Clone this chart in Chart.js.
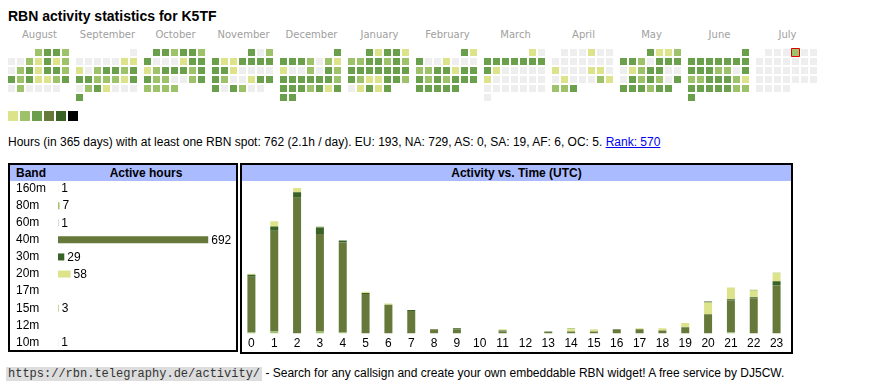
<!DOCTYPE html>
<html><head><meta charset="utf-8">
<script src="https://cdn.jsdelivr.net/npm/chart.js@4.4.1/dist/chart.umd.min.js"></script>
<style>
html,body{margin:0;padding:0;background:#fff;}
body{width:870px;height:390px;position:relative;overflow:hidden;font-family:"Liberation Sans",Arial,sans-serif;font-size:12px;color:#000;}
#title{position:absolute;left:8px;top:9px;font-size:14px;line-height:14px;font-weight:bold;white-space:nowrap;}
.mon{position:absolute;top:29px;width:63px;text-align:center;font-family:"DejaVu Sans",sans-serif;font-size:10px;line-height:12px;color:#a0a0a0;white-space:nowrap;}
.lg{position:absolute;top:111px;width:10px;height:10px;}
#info{position:absolute;left:8px;top:136px;line-height:12px;white-space:nowrap;}
#info a{color:#0000ee;text-decoration:underline;}
.box{position:absolute;box-sizing:border-box;border:2px solid #000;background:#fff;}
.hdr{position:absolute;left:0;right:0;top:0;height:16px;background:#aabbff;font-weight:bold;line-height:16px;}
#foot{position:absolute;left:6px;top:366px;line-height:14px;white-space:nowrap;}
#foot code{font-family:"Liberation Mono",monospace;font-size:12px;background:#dddddd;color:#333;padding:0 2px;}
canvas{position:absolute;}
</style></head>
<body>
<div id="title">RBN activity statistics for K5TF</div>
<div id="months"></div>
<div id="legendSq"></div>
<canvas id="cal" width="819" height="54" style="left:7px;top:48px"></canvas>
<div id="info">Hours (in 365 days) with at least one RBN spot: 762 (2.1h / day). EU: 193, NA: 729, AS: 0, SA: 19, AF: 6, OC: 5. <a href="#">Rank: 570</a></div>
<div class="box" style="left:8px;top:163px;width:230px;height:189px;">
  <div class="hdr"><span style="position:absolute;left:6px;">Band</span><span style="position:absolute;left:46px;right:0;text-align:center;">Active hours</span></div>
</div>
<div class="box" style="left:240px;top:163px;width:553px;height:191px;">
  <div class="hdr" style="text-align:center;">Activity vs. Time (UTC)</div>
</div>
<canvas id="bands" width="220" height="171" style="left:16px;top:180px"></canvas>
<canvas id="hours" width="548" height="168" style="left:240px;top:186px"></canvas>
<div id="foot"><code>https://rbn.telegraphy.de/activity/</code> - Search for any callsign and create your own embeddable RBN widget! A free service by DJ5CW.</div>
<script>
// ---------- calendar data (activity level per day) ----------
const monthNames = ['August','September','October','November','December','January','February','March','April','May','June','July'];
const monthYears = [2024,2024,2024,2024,2024,2025,2025,2025,2025,2025,2025,2025];
const monthNums  = [8,9,10,11,12,1,2,3,4,5,6,7];
const aug2024 = [2,3,3,2, 0,0,2,1,3,1,2, 0,2,3,1,3,3,2, 3,2,3,1,1,2,3, 0,2,0,0,0,0];
const sep2024 = [0, 0,0,0,0,0,1,1, 1,0,2,3,3,2,3, 3,3,2,2,2,1,3, 0,2,3,1,0,0,0, 3];
const oct2024 = [3,3,2,3,3,2, 3,0,0,0,1,3,3, 1,2,3,3,3,2,3, 3,2,2,0,0,2,3, 2,2,2,2];
const nov2024 = [3,0,2, 3,1,1,3,3,3,3, 3,3,1,0,0,0,0, 3,2,0,0,1,3,3, 3,0,3,2,0,0];
const dec2024 = [3, 3,3,3,2,0,2,1, 1,0,0,2,0,3,2, 3,3,3,3,3,3,2, 3,3,3,2,3,1,3, 3,3];
const jan2025 = [3,1,3,3,1, 2,2,3,3,2,3,2, 3,3,3,3,3,3,3, 3,2,1,1,3,3,2, 0,1,3,1,3];
const feb2025 = [3,1, 3,0,0,1,0,0,0, 2,2,3,3,1,3,3, 3,2,3,2,3,3,3, 3,3,3,3,3];
const mar2025 = [1,0, 3,3,3,3,3,3,3, 3,1,0,0,0,0,0, 1,0,0,0,0,0,0, 0,0,0,0,0,0,0, 0];
const apr2025 = [0,0,0,1,0,0, 0,0,0,0,0,0,0, 1,0,0,0,1,1,0, 0,1,0,0,0,2,1, 2,2,3];
const may2025 = [3,1,1,2, 3,3,2,0,3,3,3, 0,1,2,3,3,0,0, 0,3,2,3,2,0,3, 3,3,3,2,3,3];
const jun2025 = [3, 3,3,3,3,3,3,3, 3,3,3,2,2,0,3, 2,2,3,3,3,2,1, 3,3,3,3,3,2,2, 3];
const jul2025 = [0,0,0,2,0,0,0, 0,0,0,0,0,0,0, 0,0,0,0,0,0,0, 0,0,0,0,0,0,0, 0,0,0];
const today = {y:2025, m:7, d:4};
const levelColors = ['#eeeeee','#dde38b','#9ec26a','#6aa04b','#66793a','#386226','#000000'];

// ---------- band data ----------
const bands = ['160m','80m','60m','40m','30m','20m','17m','15m','12m','10m'];
const bandHours = [1,7,1,692,29,58,0,3,0,1];
const bandColors = {'160m':'#dde38b','80m':'#9ec26a','60m':'#386226','40m':'#66793a','30m':'#386226','20m':'#dde38b','17m':'#6aa04b','15m':'#9ec26a','12m':'#6aa04b','10m':'#c6d880'};

// ---------- activity vs time (UTC hour), per band ----------
const hours = ['0','1','2','3','4','5','6','7','8','9','10','11','12','13','14','15','16','17','18','19','20','21','22','23'];
const h80m  = [1,2,0,2,1,0,0,0,0,0,0,0,0,0,0,0,0,0,0,0,0,1,0,0];
const h40m  = [52,94,127,91,84,37,27,21,4,4,0,2,0,2,2,2,4,4,3,6,18,30,33,45];
const h30m  = [2,4,5,6,2,1,0,1,0,1,0,1,0,0,0,0,0,0,0,0,0,1,1,4];
const h20m  = [0,5,4,0,0,1,1,0,0,0,0,1,0,0,2,2,0,1,2,4,11,11,6,7];
const h15m  = [0,0,0,1,0,0,0,0,0,0,0,0,0,0,1,0,0,0,0,0,0,0,1,0];
const h10m  = [0,0,0,0,0,0,0,0,0,0,0,0,0,0,0,0,0,0,0,0,0,0,0,1];
const h60m  = [0,0,0,0,0,0,0,0,0,0,0,0,0,0,0,0,0,0,0,0,1,0,0,0];
const h160m = [1,0,0,0,0,0,0,0,0,0,0,0,0,0,0,0,0,0,0,0,0,0,0,0];
const h17m  = [0,0,0,0,0,0,0,0,0,0,0,0,0,0,0,0,0,0,0,0,0,0,0,0];
const h12m  = [0,0,0,0,0,0,0,0,0,0,0,0,0,0,0,0,0,0,0,0,0,0,0,0];

const monthLevels = [aug2024,sep2024,oct2024,nov2024,dec2024,jan2025,feb2025,mar2025,apr2025,may2025,jun2025,jul2025];

// month labels & legend (HTML text)
const mDiv = document.getElementById('months');
monthNames.forEach((n,i)=>{
  const s=document.createElement('div'); s.className='mon'; s.style.left=(8+i*68)+'px'; s.textContent=n; mDiv.appendChild(s);
});
const lDiv = document.getElementById('legendSq');
levelColors.slice(1).forEach((c,i)=>{
  const s=document.createElement('div'); s.className='lg'; s.style.left=(8+i*12)+'px'; s.style.background=c; lDiv.appendChild(s);
});

Chart.defaults.font.family = '"Liberation Sans", Arial, sans-serif';
Chart.defaults.font.size = 12;
Chart.defaults.color = '#000';
Chart.defaults.animation = false;
Chart.defaults.events = [];
Chart.defaults.plugins.legend.display = false;
Chart.defaults.plugins.tooltip.enabled = false;

// ---------- calendar heatmap ----------
const pts=[], bg=[], rad=[], bw=[], bc=[];
monthLevels.forEach((lv,m)=>{
  const first = new Date(monthYears[m], monthNums[m]-1, 1);
  const w0 = (first.getDay()+6)%7;
  lv.forEach((v,i)=>{
    const idx = w0+i;
    pts.push({x: m*68/9 + idx%7, y: Math.floor(idx/7)});
    bg.push(levelColors[v]);
    const isToday = monthYears[m]===today.y && monthNums[m]===today.m && i+1===today.d;
    rad.push(isToday ? 4*Math.SQRT2 : 3.5*Math.SQRT2);
    bw.push(isToday ? 1 : 0);
    bc.push(isToday ? '#e00000' : 'rgba(0,0,0,0)');
  });
});
new Chart(document.getElementById('cal'), {
  type:'scatter',
  data:{datasets:[{data:pts, pointStyle:'rect', pointRadius:rad, pointBackgroundColor:bg, pointBorderWidth:bw, pointBorderColor:bc, clip:false}]},
  options:{responsive:false, layout:{padding:0, autoPadding:false},
    scales:{x:{type:'linear',display:false,min:-0.5,max:90.5}, y:{type:'linear',display:false,reverse:true,min:-0.5,max:5.5}}}
});

// ---------- band chart ----------
const valueLabels = {
  id:'valueLabels',
  afterDatasetsDraw(chart){
    const ctx=chart.ctx; const meta=chart.getDatasetMeta(0);
    ctx.save(); ctx.font='12px "Liberation Sans", Arial, sans-serif'; ctx.fillStyle='#000'; ctx.textBaseline='middle'; ctx.textAlign='left';
    meta.data.forEach((el,i)=>{ const v=chart.data.datasets[0].data[i]; if(v>0) ctx.fillText(String(v), el.x+3, el.y+0.5); });
    ctx.restore();
  }
};
new Chart(document.getElementById('bands'), {
  type:'bar',
  data:{labels:bands, datasets:[{data:bandHours, backgroundColor:bands.map(b=>bandColors[b]), borderWidth:0, barPercentage:0.41, categoryPercentage:1}]},
  options:{responsive:false, indexAxis:'y', layout:{padding:0, autoPadding:false},
    scales:{
      x:{display:false,min:0,max:820},
      y:{grid:{display:false,drawTicks:false}, border:{display:false}, ticks:{autoSkip:false,crossAlign:'far',padding:0,color:'#000'},
         afterFit:(s)=>{s.width=42; s.paddingTop=0; s.paddingBottom=0;}}
    }},
  plugins:[valueLabels]
});

// ---------- activity vs time ----------
const stackOrder = [['80m',h80m],['40m',h40m],['30m',h30m],['20m',h20m],['17m',h17m],['15m',h15m],['12m',h12m],['10m',h10m],['60m',h60m],['160m',h160m]];
new Chart(document.getElementById('hours'), {
  type:'bar',
  data:{labels:hours, datasets:stackOrder.map(([b,arr])=>({label:b, data:arr, backgroundColor:bandColors[b], borderWidth:0, barPercentage:0.35, categoryPercentage:1}))},
  options:{responsive:false, layout:{padding:{top:2,left:0,right:0,bottom:0}, autoPadding:false},
    scales:{
      x:{stacked:true, grid:{display:false,drawTicks:false}, border:{display:false}, ticks:{autoSkip:false,maxRotation:0,padding:3,color:'#000'},
         afterFit:(s)=>{s.paddingLeft=0; s.paddingRight=0;}},
      y:{stacked:true, display:false, min:0, max:136}
    }}
});
</script>
</body></html>
